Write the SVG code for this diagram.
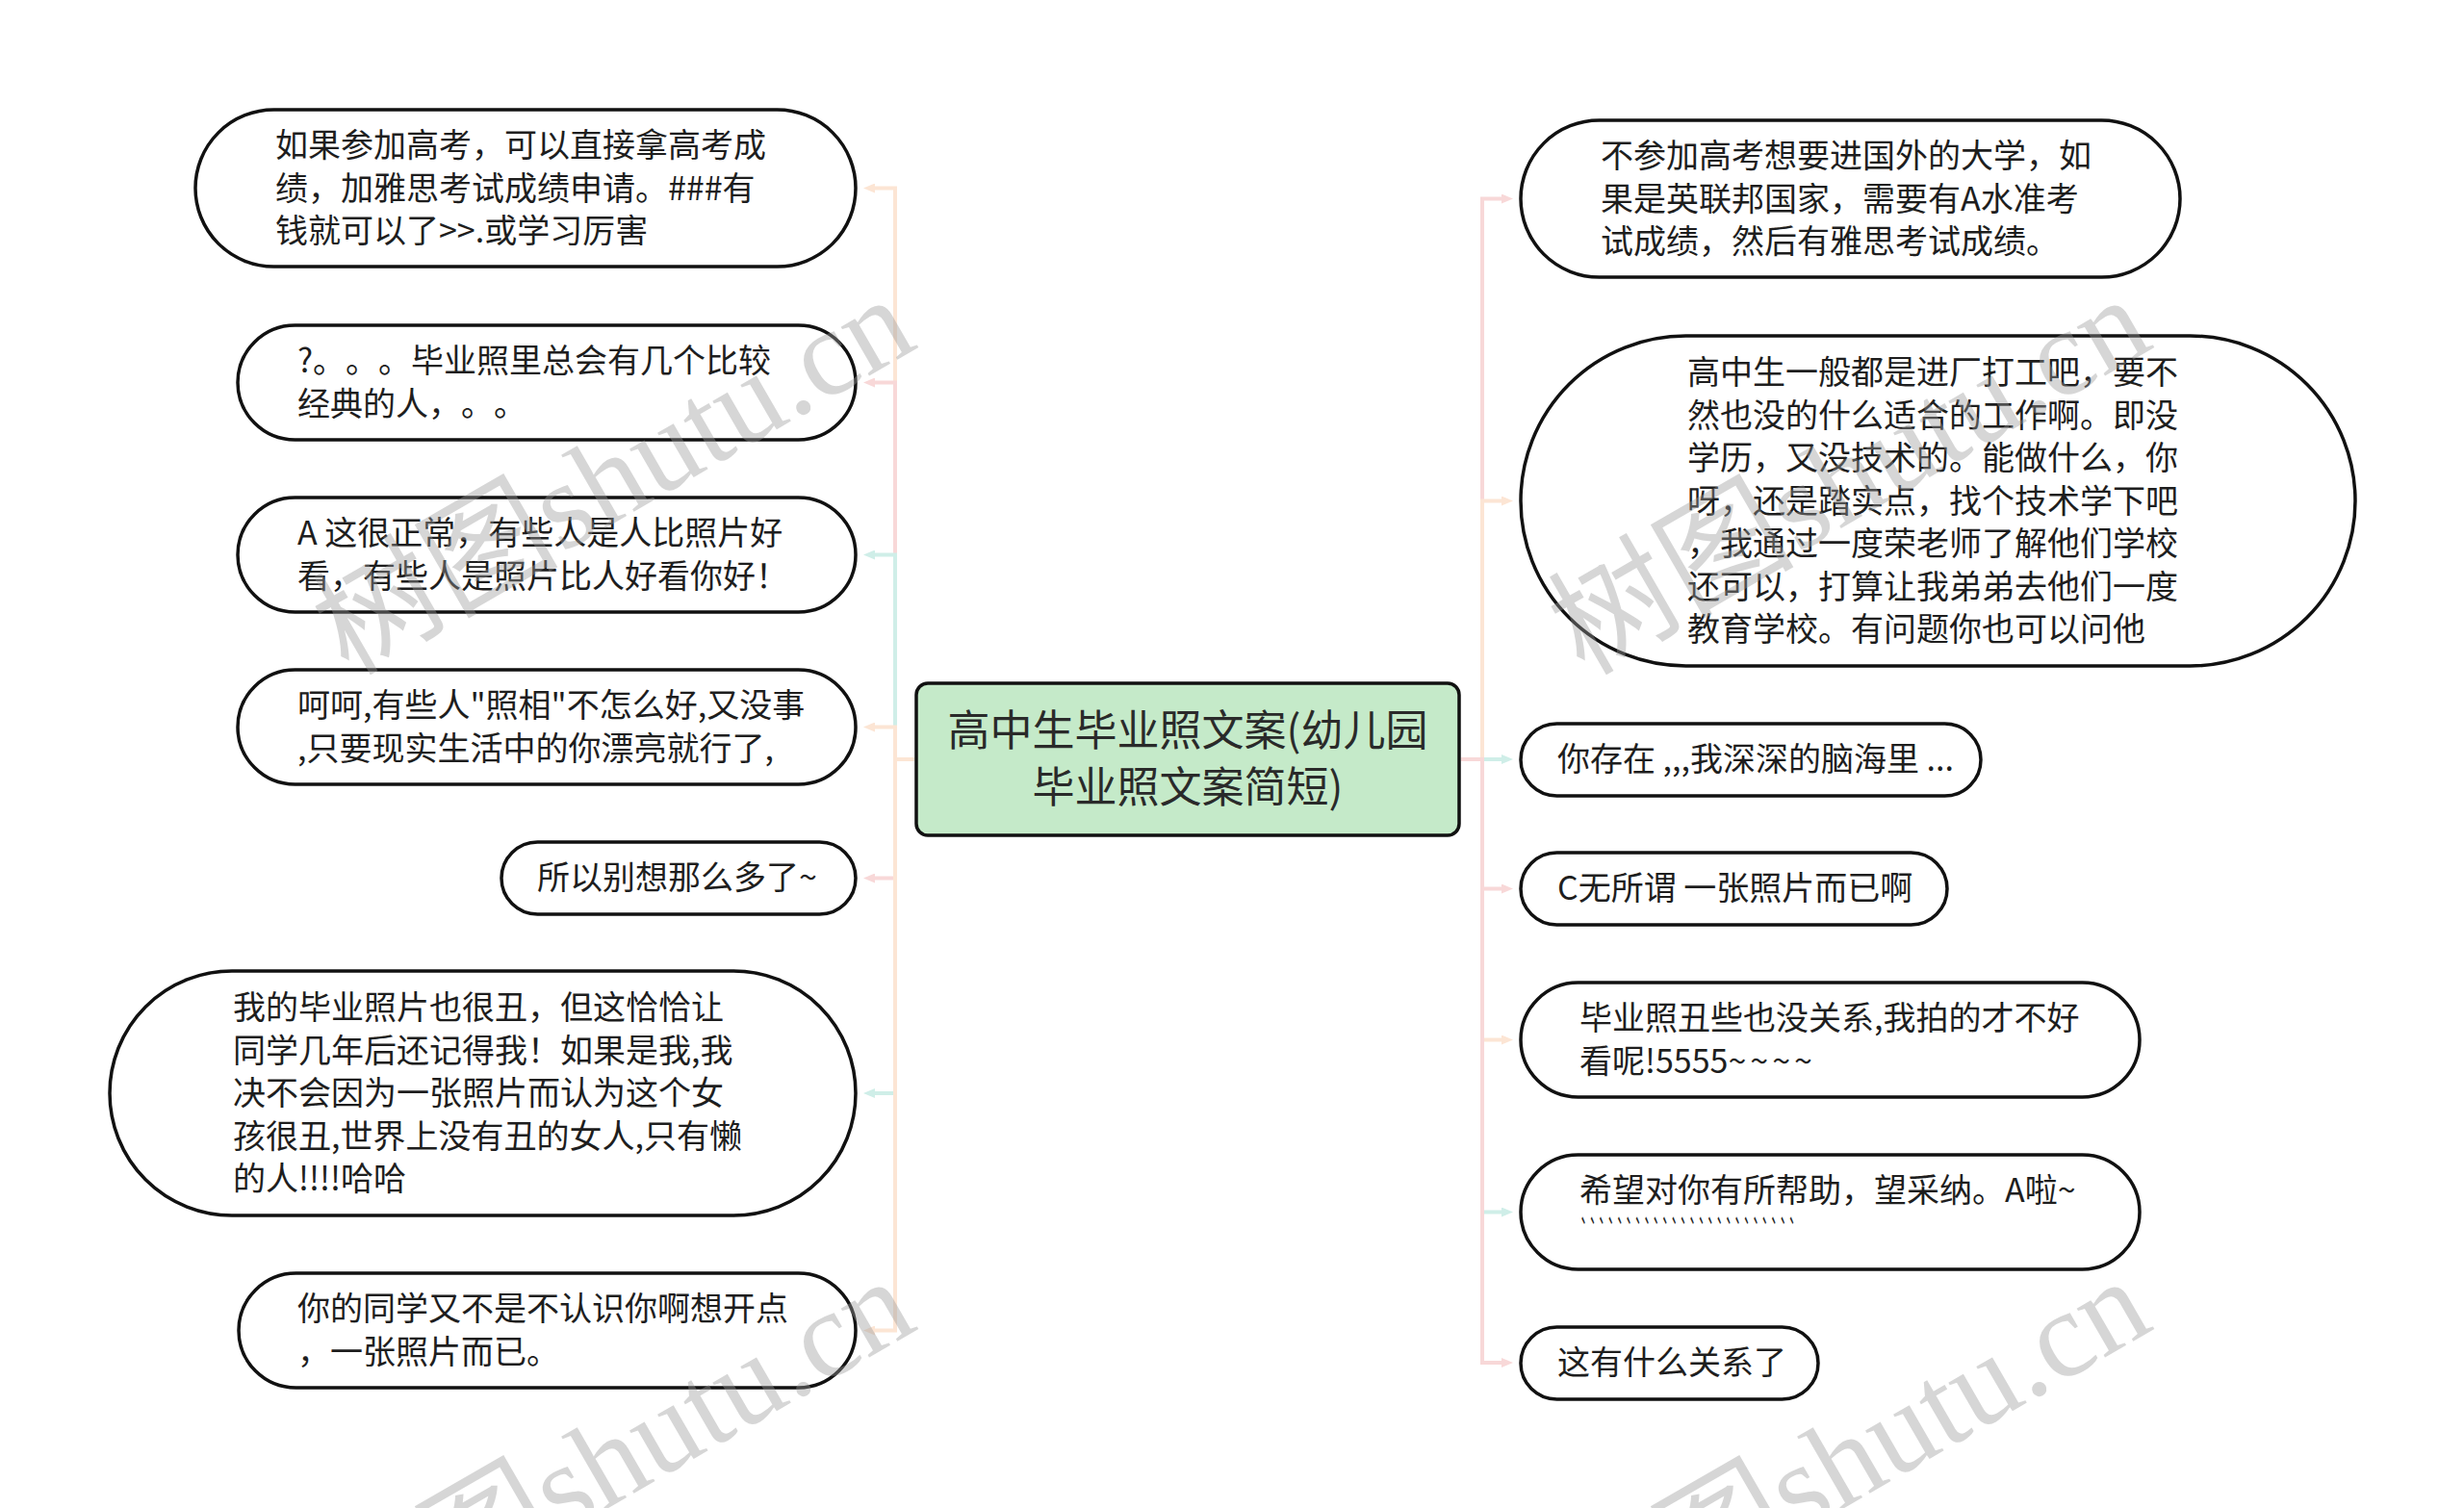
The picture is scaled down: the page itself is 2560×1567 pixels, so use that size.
<svg xmlns="http://www.w3.org/2000/svg" width="2560" height="1567" viewBox="0 0 2560 1567">
<style>
.node{fill:#ffffff;stroke:#111111;stroke-width:3.5}
.root{fill:#c5eac9;stroke:#111111;stroke-width:3.5}
.t{font-family:"Noto Sans CJK SC","Microsoft YaHei",sans-serif;font-size:34px;fill:#1e1e1e;text-spacing-trim:space-all}
.rt{font-family:"Noto Sans CJK SC","Microsoft YaHei",sans-serif;font-size:44px;fill:#2a2a2a;text-anchor:middle}
.c{fill:none;stroke-width:4}
.peach{stroke:#fce5d4}
.pink{stroke:#f8d8d8}
.teal{stroke:#cfeee8}
.wm{font-family:"Liberation Serif","Noto Sans CJK SC",serif;font-size:128px;fill:#9a9a9a;opacity:0.4;text-anchor:end}
</style>
<defs>
<marker id="ap" viewBox="0 0 12 10" refX="4" refY="5" markerWidth="12" markerHeight="10" markerUnits="userSpaceOnUse" orient="auto"><path d="M0,0 L12,5 L0,10 z" fill="#fce5d4"/></marker>
<marker id="ak" viewBox="0 0 12 10" refX="4" refY="5" markerWidth="12" markerHeight="10" markerUnits="userSpaceOnUse" orient="auto"><path d="M0,0 L12,5 L0,10 z" fill="#f8d8d8"/></marker>
<marker id="at" viewBox="0 0 12 10" refX="4" refY="5" markerWidth="12" markerHeight="10" markerUnits="userSpaceOnUse" orient="auto"><path d="M0,0 L12,5 L0,10 z" fill="#cfeee8"/></marker>
</defs>
<rect width="2560" height="1567" fill="#ffffff"/>
<g id="connectors">
<path class="c peach" marker-end="url(#ap)" d="M950,789 H930 V195.5 H905"/>
<path class="c pink" marker-end="url(#ak)" d="M950,789 H930 V397.5 H905"/>
<path class="c teal" marker-end="url(#at)" d="M950,789 H930 V576.5 H905"/>
<path class="c peach" marker-end="url(#ap)" d="M950,789 H930 V755.5 H905"/>
<path class="c pink" marker-end="url(#ak)" d="M950,789 H930 V912.5 H905"/>
<path class="c teal" marker-end="url(#at)" d="M950,789 H930 V1136 H905"/>
<path class="c peach" marker-end="url(#ap)" d="M950,789 H930 V1382.5 H905"/>
<path class="c pink" marker-end="url(#ak)" d="M1518,789 H1540 V206.5 H1564"/>
<path class="c peach" marker-end="url(#ap)" d="M1518,789 H1540 V520.5 H1564"/>
<path class="c teal" marker-end="url(#at)" d="M1518,789 H1540 V789 H1564"/>
<path class="c pink" marker-end="url(#ak)" d="M1518,789 H1540 V923.5 H1564"/>
<path class="c peach" marker-end="url(#ap)" d="M1518,789 H1540 V1080.5 H1564"/>
<path class="c teal" marker-end="url(#at)" d="M1518,789 H1540 V1259.5 H1564"/>
<path class="c pink" marker-end="url(#ak)" d="M1518,789 H1540 V1416 H1564"/>
</g>
<g id="root">
<rect class="root" x="952" y="710" width="564" height="158" rx="12"/>
<text class="rt"><tspan x="1234" y="775">高中生毕业照文案(幼儿园</tspan><tspan x="1234" y="834">毕业照文案简短)</tspan></text>
</g>
<g id="L1">
<rect class="node" x="203" y="114" width="686" height="163" rx="81.5"/>
<text class="t"><tspan x="286" y="163">如果参加高考，可以直接拿高考成</tspan><tspan x="286" dy="44.5">绩，加雅思考试成绩申请。###有</tspan><tspan x="286" dy="44.5">钱就可以了&gt;&gt;.或学习厉害</tspan></text>
</g>
<g id="L2">
<rect class="node" x="247" y="338" width="642" height="119" rx="59.5"/>
<text class="t"><tspan x="309" y="387">?。。。毕业照里总会有几个比较</tspan><tspan x="309" dy="44.5">经典的人，。。</tspan></text>
</g>
<g id="L3">
<rect class="node" x="247" y="517" width="642" height="119" rx="59.5"/>
<text class="t"><tspan x="309" y="566">A 这很正常，有些人是人比照片好</tspan><tspan x="309" dy="44.5">看，有些人是照片比人好看你好！</tspan></text>
</g>
<g id="L4">
<rect class="node" x="247" y="696" width="642" height="119" rx="59.5"/>
<text class="t"><tspan x="309" y="745">呵呵,有些人"照相"不怎么好,又没事</tspan><tspan x="309" dy="44.5">,只要现实生活中的你漂亮就行了,</tspan></text>
</g>
<g id="L5">
<rect class="node" x="521" y="875" width="368" height="75" rx="37.5"/>
<text class="t" x="558" y="924">所以别想那么多了~</text>
</g>
<g id="L6">
<rect class="node" x="114" y="1009" width="775" height="254" rx="127"/>
<text class="t"><tspan x="242" y="1059">我的毕业照片也很丑，但这恰恰让</tspan><tspan x="242" dy="44.5">同学几年后还记得我！如果是我,我</tspan><tspan x="242" dy="44.5">决不会因为一张照片而认为这个女</tspan><tspan x="242" dy="44.5">孩很丑,世界上没有丑的女人,只有懒</tspan><tspan x="242" dy="44.5">的人!!!!哈哈</tspan></text>
</g>
<g id="L7">
<rect class="node" x="248" y="1323" width="641" height="119" rx="59.5"/>
<text class="t"><tspan x="309" y="1372">你的同学又不是不认识你啊想开点</tspan><tspan x="309" dy="44.5">，一张照片而已。</tspan></text>
</g>
<g id="R1">
<rect class="node" x="1580" y="125" width="685" height="163" rx="81.5"/>
<text class="t"><tspan x="1663" y="174">不参加高考想要进国外的大学，如</tspan><tspan x="1663" dy="44.5">果是英联邦国家，需要有A水准考</tspan><tspan x="1663" dy="44.5">试成绩，然后有雅思考试成绩。</tspan></text>
</g>
<g id="R2">
<rect class="node" x="1580" y="349" width="867" height="343" rx="171.5"/>
<text class="t"><tspan x="1753" y="399">高中生一般都是进厂打工吧，要不</tspan><tspan x="1753" dy="44.5">然也没的什么适合的工作啊。即没</tspan><tspan x="1753" dy="44.5">学历，又没技术的。能做什么，你</tspan><tspan x="1753" dy="44.5">呀，还是踏实点，找个技术学下吧</tspan><tspan x="1753" dy="44.5">，我通过一度荣老师了解他们学校</tspan><tspan x="1753" dy="44.5">还可以，打算让我弟弟去他们一度</tspan><tspan x="1753" dy="44.5">教育学校。有问题你也可以问他</tspan></text>
</g>
<g id="R3">
<rect class="node" x="1580" y="752" width="478" height="75" rx="37.5"/>
<text class="t" x="1618" y="801">你存在 ,,,我深深的脑海里 ...</text>
</g>
<g id="R4">
<rect class="node" x="1580" y="886" width="443" height="75" rx="37.5"/>
<text class="t" x="1618" y="935">C无所谓 一张照片而已啊</text>
</g>
<g id="R5">
<rect class="node" x="1580" y="1021" width="643" height="119" rx="59.5"/>
<text class="t"><tspan x="1641" y="1070">毕业照丑些也没关系,我拍的才不好</tspan><tspan x="1641" dy="44.5">看呢!5555<tspan letter-spacing="4">~~~~</tspan></tspan></text>
</g>
<g id="R6">
<rect class="node" x="1580" y="1200" width="643" height="119" rx="59.5"/>
<text class="t" x="1641" y="1249">希望对你有所帮助，望采纳。A啦~</text>
<text class="t" x="1641" y="1293.5" textLength="226" lengthAdjust="spacingAndGlyphs">````````````````````````</text>
</g>
<g id="R7">
<rect class="node" x="1580" y="1379" width="309" height="75" rx="37.5"/>
<text class="t" x="1618" y="1428">这有什么关系了</text>
</g>
<g id="watermarks">
<text class="wm" transform="translate(956,360) rotate(-30)">树图shutu.cn</text>
<text class="wm" transform="translate(2240,360) rotate(-30)">树图shutu.cn</text>
<text class="wm" transform="translate(956,1380) rotate(-30)">树图shutu.cn</text>
<text class="wm" transform="translate(2240,1380) rotate(-30)">树图shutu.cn</text>
</g>
</svg>
